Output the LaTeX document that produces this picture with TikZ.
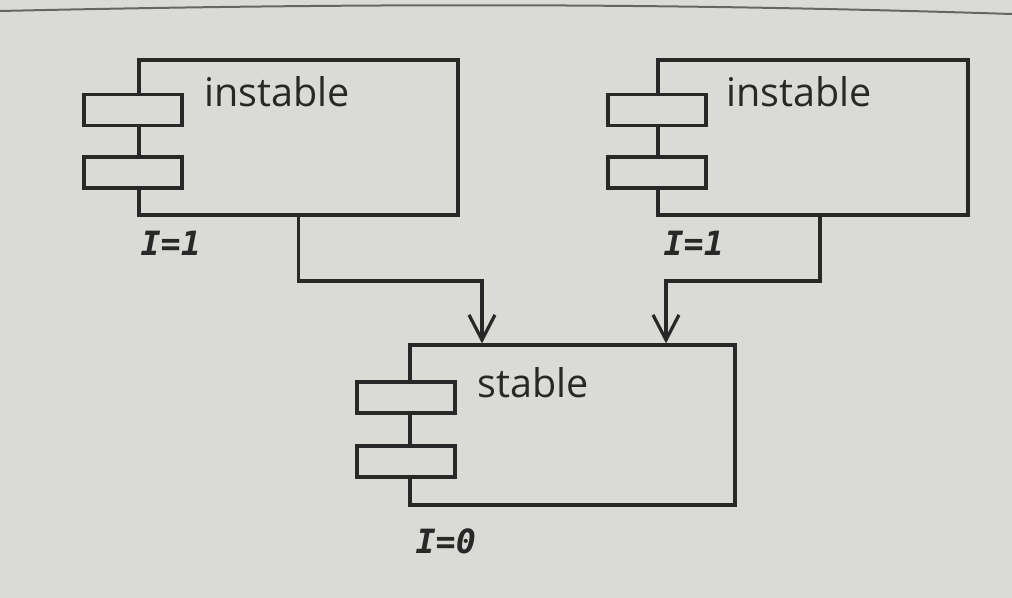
\documentclass[tikz,border=0pt]{standalone}
\usepackage{fontspec}
\setmainfont{Open Sans}
\newfontfamily\codefont{DejaVu Sans Mono}
\usetikzlibrary{arrows.meta}
\definecolor{paper}{RGB}{218,218,214}
\definecolor{ink}{RGB}{40,40,40}
\begin{document}
\begin{tikzpicture}[x=0.02cm,y=-0.02cm,line width=0.065cm,
  comp/.style={draw=ink,rectangle,inner sep=0pt},
  port/.style={draw=ink,fill=paper,rectangle,inner sep=0pt,minimum width=1.96cm,minimum height=0.62cm},
  cname/.style={anchor=west,text=ink,font=\fontsize{22.5}{26}\selectfont},
  ival/.style={anchor=west,text=ink,font=\codefont\bfseries\itshape\fontsize{19}{22}\selectfont},
  dep/.style={draw=ink,-{Straight Barb[length=0.5cm,width=0.52cm,line width=0.065cm]}}]
\tikzstyle{every node}+=[inner sep=0pt]
\useasboundingbox (0,0) rectangle (1012,598);
\fill [paper] (0,0) rectangle (1012,598);
\draw [gray!80!black,line width=0.04cm] (0,11) .. controls (400,2) and (700,4) .. (1012,14);
% left component
\node [comp,minimum width=6.38cm,minimum height=3.1cm] (lbody) at (298.5,137.5) {};
\node [port] (lport1) at (133,110) {};
\node [port] (lport2) at (133,172.5) {};
\node [cname] (lname) at (203,92) {instable};
\node [ival] (li) at (139,243) {I=1};
% right component
\node [comp,minimum width=6.2cm,minimum height=3.1cm] (rbody) at (813,137.5) {};
\node [port] (rport1) at (657,110) {};
\node [port] (rport2) at (657,172.5) {};
\node [cname] (rname) at (725,92) {instable};
\node [ival] (ri) at (662,243) {I=1};
% stable component
\node [comp,minimum width=6.5cm,minimum height=3.2cm] (sbody) at (572.5,425) {};
\node [port] (sport1) at (406,397.5) {};
\node [port] (sport2) at (406,461.5) {};
\node [cname] (sname) at (476,383) {stable};
\node [ival] (si) at (414,541) {I=0};
% dependencies
\coordinate (lbend) at (482,281);
\coordinate (rbend) at (666,281);
\coordinate (rdrop) at (820,281);
\draw [dep] (lbody.south) |- (lbend) -- (lbend |- sbody.north);
\draw [dep] (rdrop |- rbody.south) -- (rdrop) -- (rbend) -- (rbend |- sbody.north);
\end{tikzpicture}
\end{document}
